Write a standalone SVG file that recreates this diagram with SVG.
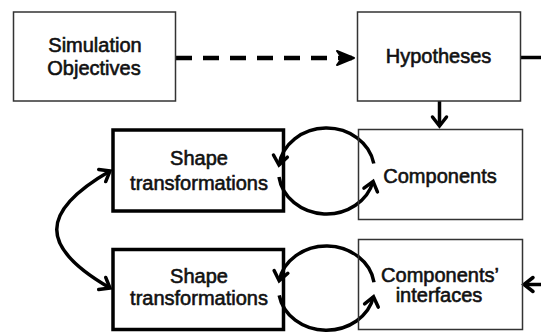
<svg xmlns="http://www.w3.org/2000/svg" width="541" height="334" viewBox="0 0 541 334">
  <style>
    .thin { fill: none; stroke: #333; stroke-width: 1.5; }
    .thick { fill: none; stroke: #000; stroke-width: 3.5; }
    .lbl { font-family: "Liberation Sans", Arial, sans-serif; font-size: 20px; fill: #111; stroke: #111; stroke-width: 0.6; text-anchor: middle; }
    .conn { fill: none; stroke: #000; stroke-width: 3.5; }
    .dash { fill: none; stroke: #000; stroke-width: 4.5; stroke-dasharray: 16 11; }
  </style>
  <defs>
    <marker id="chev" markerUnits="userSpaceOnUse" viewBox="-14 -10 18 20" refX="0" refY="0" markerWidth="18" markerHeight="20" orient="auto-start-reverse" overflow="visible">
      <path d="M-9,-7 L0,0 L-9,7" fill="none" stroke="#000" stroke-width="3.5" stroke-linecap="round" stroke-linejoin="miter"/>
    </marker>
    <marker id="fat" markerUnits="userSpaceOnUse" viewBox="-20 -10 24 20" refX="0" refY="0" markerWidth="24" markerHeight="20" orient="auto" overflow="visible">
      <path d="M2,0 L-15,-7 L-10,0 L-15,7 Z" fill="#000" stroke="#000" stroke-width="2" stroke-linejoin="round" stroke-dasharray="none"/>
    </marker>
  </defs>

  <g id="connectors">
    <path class="dash" d="M176,58 H352" marker-end="url(#fat)"/>
    <path class="conn" d="M521,57.5 H541"/>
    <path class="conn" d="M439.5,101 V126" marker-end="url(#chev)"/>
    <path class="conn" d="M541,284.5 H524" marker-end="url(#chev)"/>
    <path class="conn" d="M110,171 C39,212 39,247 110,288" marker-start="url(#chev)" marker-end="url(#chev)"/>
    <path class="conn" d="M373.8,163.5 A48,43 0 0,0 279,165" marker-end="url(#chev)"/>
    <path class="conn" d="M279,177 A48,43 0 0,0 373.1,181.4" marker-end="url(#chev)"/>
    <path class="conn" d="M374,282.2 A48,42 0 0,0 279.2,280.7" marker-end="url(#chev)"/>
    <path class="conn" d="M279.2,295.3 A48,42 0 0,0 373.5,296.7" marker-end="url(#chev)"/>
  </g>

  <g id="simulation-objectives">
    <rect class="thin" x="13.5" y="12" width="162" height="89"/>
    <text class="lbl" x="95" y="52">Simulation</text>
    <text class="lbl" x="94" y="75">Objectives</text>
  </g>
  <g id="hypotheses">
    <rect class="thin" x="357.5" y="12" width="163" height="89"/>
    <text class="lbl" x="438.5" y="63">Hypotheses</text>
  </g>
  <g id="shape-transformations-1">
    <rect class="thick" x="113" y="130" width="170.5" height="81"/>
    <text class="lbl" x="199" y="165">Shape</text>
    <text class="lbl" x="199" y="190">transformations</text>
  </g>
  <g id="components">
    <rect class="thin" x="358.5" y="129.5" width="164" height="90"/>
    <text class="lbl" x="440" y="183">Components</text>
  </g>
  <g id="shape-transformations-2">
    <rect class="thick" x="113" y="249.5" width="170.5" height="80"/>
    <text class="lbl" x="199" y="283">Shape</text>
    <text class="lbl" x="199" y="305">transformations</text>
  </g>
  <g id="components-interfaces">
    <rect class="thin" x="358.5" y="239.5" width="164" height="90"/>
    <text class="lbl" x="440" y="282">Components’</text>
    <text class="lbl" x="439" y="302">interfaces</text>
  </g>
</svg>
